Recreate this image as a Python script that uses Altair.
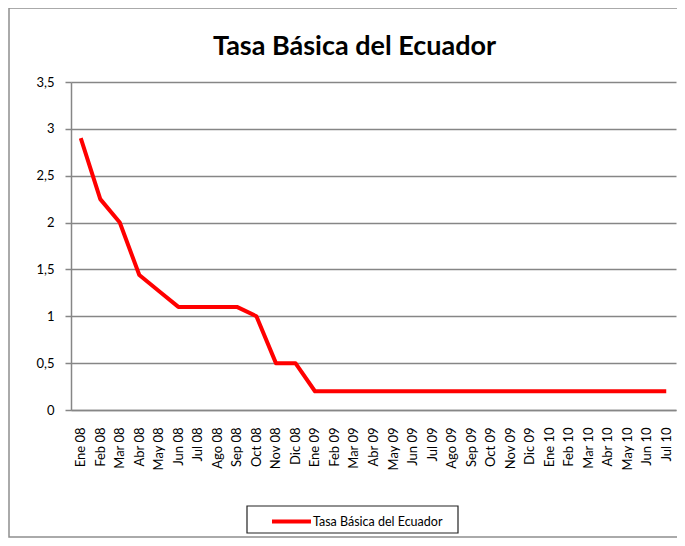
import altair as alt
import pandas as pd

months = ["Ene 08", "Feb 08", "Mar 08", "Abr 08", "May 08", "Jun 08", "Jul 08", "Ago 08",
          "Sep 08", "Oct 08", "Nov 08", "Dic 08", "Ene 09", "Feb 09", "Mar 09", "Abr 09",
          "May 09", "Jun 09", "Jul 09", "Ago 09", "Sep 09", "Oct 09", "Nov 09", "Dic 09",
          "Ene 10", "Feb 10", "Mar 10", "Abr 10", "May 10", "Jun 10", "Jul 10"]
rates = [2.90, 2.25, 2.00, 1.44, 1.27, 1.10, 1.10, 1.10,
         1.10, 1.00, 0.50, 0.50, 0.20, 0.20, 0.20, 0.20,
         0.20, 0.20, 0.20, 0.20, 0.20, 0.20, 0.20, 0.20,
         0.20, 0.20, 0.20, 0.20, 0.20, 0.20, 0.20]
series_name = "Tasa Básica del Ecuador"
chart_title = "Tasa Básica del Ecuador"
y_ticks = [0, 0.5, 1, 1.5, 2, 2.5, 3, 3.5]

df = pd.DataFrame({"mes": months, "tasa": rates, "serie": [series_name] * len(months)})
one = pd.DataFrame({"t": [chart_title]})

FONT = "Lato"
GRAY = "#868686"

line = alt.Chart(df).mark_line(strokeWidth=4, strokeJoin="round").encode(
    x=alt.X("mes:N", sort=None, scale=alt.Scale(type="point", padding=0.5),
            axis=alt.Axis(title=None, labelAngle=270, labelAlign="right", labelBaseline="middle",
                          ticks=False, tickSize=0, labelPadding=17, grid=False,
                          domainColor=GRAY, domainWidth=1.5, labelColor="#000",
                          labelFont=FONT, labelFontSize=13)),
    y=alt.Y("tasa:Q", scale=alt.Scale(domain=[0, 3.5], nice=False),
            axis=alt.Axis(title=None, values=y_ticks,
                          labelExpr="replace(toString(datum.value), '.', ',')",
                          tickSize=6, tickColor=GRAY, tickWidth=1.5, labelPadding=11,
                          domainColor=GRAY, domainWidth=1.5, gridColor=GRAY, gridWidth=1.3,
                          labelColor="#000", labelFont=FONT, labelFontSize=13)),
    color=alt.Color("serie:N", scale=alt.Scale(range=["#ff0000"]),
                    legend=alt.Legend(title=None, orient="none", legendX=212, legendY=431,
                                      padding=0, symbolType="M-3,0H3",
                                      symbolStrokeWidth=4, symbolSize=169, symbolOffset=0,
                                      labelOffset=13, labelFont=FONT, labelFontSize=12.5,
                                      labelColor="#000")),
)

frame = alt.Chart(one).mark_rect(
    fill="transparent", stroke="#8f8f8f", strokeWidth=1.5
).encode(x=alt.value(-62), x2=alt.value(720), y=alt.value(-74), y2=alt.value(455))

legend_box = alt.Chart(one).mark_rect(
    fill="transparent", stroke="#222", strokeWidth=1.2
).encode(x=alt.value(176), x2=alt.value(387), y=alt.value(424), y2=alt.value(451))

title = alt.Chart(one).mark_text(
    font=FONT, fontSize=27, fontWeight="bold", color="#000", align="center", baseline="alphabetic"
).encode(text="t:N", x=alt.value(283.5), y=alt.value(-27))

chart = alt.layer(frame, legend_box, title, line).properties(
    width=605, height=328,
    padding={"left": 63, "top": 74, "right": 1, "bottom": 128},
    autosize=alt.AutoSizeParams(type="none"),
).configure_view(stroke=None)

chart.save("out.html", embed_options={"renderer": "svg", "actions": False})
